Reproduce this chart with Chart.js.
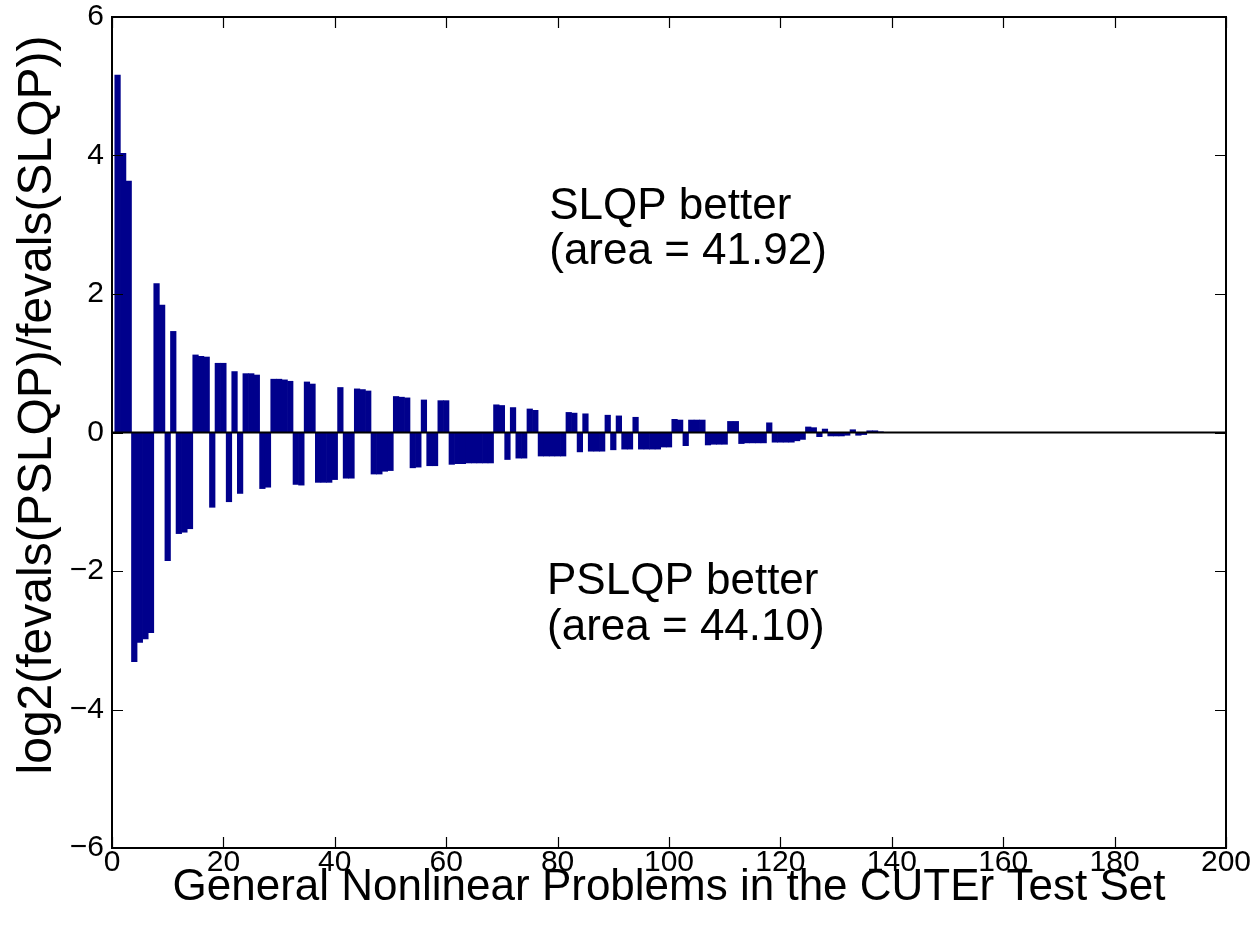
<!DOCTYPE html>
<html>
<head>
<meta charset="utf-8">
<script src="https://cdn.jsdelivr.net/npm/chart.js@4"></script>
<style>
  html, body { margin: 0; padding: 0; background: #fff; }
</style>
</head>
<body>
<canvas id="fevalsChart" width="1255" height="930"></canvas>
<script>
// log2(fevals(PSLQP)/fevals(SLQP)) per problem (problems 1..197)
const ratios = [
  5.16, 4.03, 3.63, -3.31, -3.03, -2.98, -2.89, 2.15, 1.84, -1.85,
  1.46, -1.46, -1.44, -1.39, 1.12, 1.10, 1.09, -1.08, 1.00, 1.00,
  -1.00, 0.88, -0.88, 0.85, 0.85, 0.83, -0.81, -0.79, 0.77, 0.77,
  0.76, 0.74, -0.75, -0.76, 0.73, 0.70, -0.72, -0.72, -0.72, -0.68,
  0.65, -0.66, -0.66, 0.63, 0.62, 0.60, -0.60, -0.60, -0.56, -0.55,
  0.52, 0.51, 0.50, -0.51, -0.50, 0.47, -0.48, -0.48, 0.46, 0.46,
  -0.46, -0.45, -0.45, -0.44, -0.44, -0.44, -0.44, -0.44, 0.40, 0.39,
  -0.39, 0.36, -0.37, -0.37, 0.34, 0.32, -0.34, -0.34, -0.34, -0.34,
  -0.34, 0.29, 0.28, -0.28, 0.27, -0.27, -0.27, -0.27, 0.25, -0.25,
  0.24, -0.24, -0.24, 0.22, -0.24, -0.24, -0.24, -0.24, -0.21, -0.21,
  0.19, 0.18, -0.19, 0.18, 0.18, 0.18, -0.18, -0.17, -0.17, -0.17,
  0.16, 0.16, -0.16, -0.15, -0.15, -0.15, -0.15, 0.14, -0.14, -0.14,
  -0.14, -0.14, -0.12, -0.10, 0.08, 0.07, -0.06, 0.05, -0.05, -0.05,
  -0.05, -0.04, 0.04, -0.04, -0.03, 0.025, 0.025, 0.01, 0, 0,
  0, 0, 0, 0, 0, 0, 0, 0, 0, 0,
  0, 0, 0, 0, 0, 0, 0, 0, 0, 0,
  0, 0, 0, 0, 0, 0, 0, 0, 0, 0,
  0, 0, 0, 0, 0, 0, 0, 0, 0, 0,
  0, 0, 0, 0, 0, 0, 0, 0, 0, 0,
  0, 0, 0, 0, 0, 0, 0
];

const problems = [];
for (let i = 1; i <= ratios.length; i++) problems.push(i);

const xTicks = [0, 20, 40, 60, 80, 100, 120, 140, 160, 180, 200];
const yTicks = [-6, -4, -2, 0, 2, 4, 6];

const notes = [
  { text: 'SLQP better', x: 78.5, y: 3.08 },
  { text: '(area = 41.92)', x: 78.5, y: 2.43 },
  { text: 'PSLQP better', x: 78.1, y: -2.33 },
  { text: '(area = 44.10)', x: 78.1, y: -2.99 }
];

const yTitle = 'log2(fevals(PSLQP)/fevals(SLQP))';

const FONT = 'Arial, "Liberation Sans", Helvetica, sans-serif';

// matlab style box, inward ticks on all four sides, zero line, labels
const matlabAxes = {
  id: 'matlabAxes',
  afterDatasetsDraw(chart) {
    const ctx = chart.ctx;
    const { left, right, top, bottom } = chart.chartArea;
    const xs = chart.scales.x, ys = chart.scales.y;
    ctx.save();

    // zero line
    const y0 = ys.getPixelForValue(0);
    ctx.strokeStyle = '#000';
    ctx.lineWidth = 2;
    ctx.beginPath();
    ctx.moveTo(left, y0);
    ctx.lineTo(right, y0);
    ctx.stroke();

    // ticks
    ctx.lineWidth = 1.2;
    ctx.beginPath();
    xs.ticks.forEach(t => {
      const px = Math.round(xs.getPixelForValue(t.value)) + 0.5;
      ctx.moveTo(px, bottom); ctx.lineTo(px, bottom - 11);
      ctx.moveTo(px, top); ctx.lineTo(px, top + 11);
    });
    ys.ticks.forEach(t => {
      const py = Math.round(ys.getPixelForValue(t.value)) + 0.5;
      ctx.moveTo(left, py); ctx.lineTo(left + 11, py);
      ctx.moveTo(right, py); ctx.lineTo(right - 11, py);
    });
    ctx.stroke();

    // box
    ctx.lineWidth = 2;
    ctx.strokeRect(left, top, right - left, bottom - top);

    // text in the plot
    ctx.fillStyle = '#000';
    ctx.font = '44px ' + FONT;
    ctx.textAlign = 'left';
    ctx.textBaseline = 'alphabetic';
    notes.forEach(n => {
      ctx.fillText(n.text, xs.getPixelForValue(n.x), ys.getPixelForValue(n.y));
    });

    // y axis title (sits a bit above the axis centre, as in the original)
    ctx.translate(38, 405);
    ctx.rotate(-Math.PI / 2);
    ctx.font = '48px ' + FONT;
    ctx.textAlign = 'center';
    ctx.textBaseline = 'middle';
    ctx.fillText(yTitle, 0, 0);
    ctx.restore();
  }
};

new Chart(document.getElementById('fevalsChart'), {
  type: 'bar',
  data: {
    datasets: [{
      data: ratios.map((v, i) => ({ x: problems[i], y: v })),
      backgroundColor: '#00008c',
      borderWidth: 0,
      barPercentage: 1,
      categoryPercentage: 1
    }]
  },
  options: {
    responsive: false,
    animation: false,
    devicePixelRatio: 1,
    layout: {
      padding: { left: 0, top: 17, right: 29, bottom: 0 }
    },
    plugins: {
      legend: { display: false },
      tooltip: { enabled: false }
    },
    scales: {
      x: {
        type: 'linear',
        min: 0,
        max: 200,
        offset: false,
        afterBuildTicks: scale => { scale.ticks = xTicks.map(v => ({ value: v })); },
        afterFit: scale => {
          scale.height = 82;
          scale.paddingLeft = 0;
          scale.paddingRight = 0;
        },
        grid: { display: false, drawTicks: false, offset: false },
        border: { display: false },
        ticks: {
          padding: 0,
          color: '#000',
          maxRotation: 0,
          autoSkip: false,
          font: { family: FONT, size: 30, lineHeight: 1 }
        },
        title: {
          display: true,
          text: 'General Nonlinear Problems in the CUTEr Test Set',
          color: '#000',
          font: { family: FONT, size: 44, lineHeight: 1 },
          padding: { top: 0, bottom: 20 }
        }
      },
      y: {
        min: -6,
        max: 6,
        afterBuildTicks: scale => { scale.ticks = yTicks.map(v => ({ value: v })); },
        afterFit: scale => {
          scale.width = 112;
          scale.paddingTop = 0;
          scale.paddingBottom = 0;
        },
        grid: { display: false, drawTicks: false },
        border: { display: false },
        ticks: {
          padding: 8,
          color: '#000',
          font: { family: FONT, size: 30, lineHeight: 1 },
          callback: v => String(v).replace('-', '\u2212')
        },
        title: { display: false }
      }
    }
  },
  plugins: [matlabAxes]
});
</script>
</body>
</html>
